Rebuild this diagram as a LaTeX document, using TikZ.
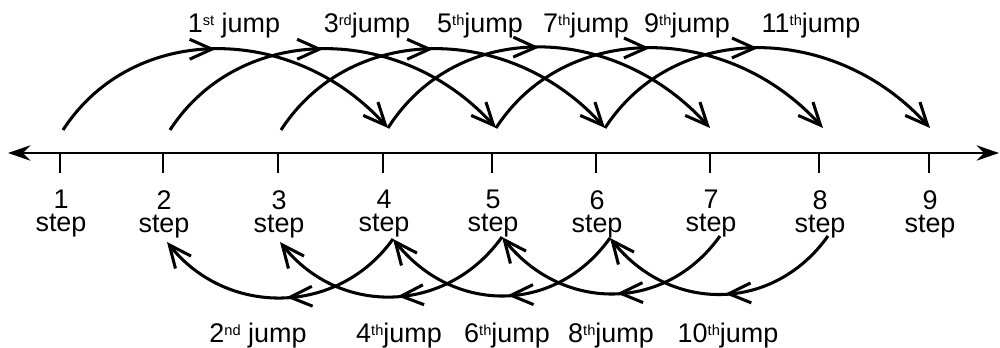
\documentclass[tikz,border=0pt]{standalone}
\usepackage{fontspec}
\setmainfont{Liberation Sans}
\usetikzlibrary{arrows.meta,decorations.markings}
\newcommand{\jsup}[1]{\raisebox{6.5pt}{\fontsize{12.5}{13}\selectfont #1}}
\tikzset{
    jump/.style={line width=2.6pt, -{Straight Barb[length=19pt,width=17pt]}, postaction={decorate},
        decoration={markings, mark=at position 0.48 with {\arrow{Straight Barb[length=19pt,width=17pt]}}}},
    tick/.style={line width=2pt},
    lbl/.style={anchor=base, inner sep=0pt, font=\fontsize{23}{24}\selectfont},
    steplbl/.style={anchor=north, inner sep=0pt, align=center, font=\fontsize{23}{19.8}\selectfont}
}
\begin{document}
\begin{tikzpicture}[x=0.03cm, y=-0.03cm]
        \useasboundingbox (0,0) rectangle (1000,348);

        % draw axis
        \coordinate (l) at (8,153);
        \coordinate (r) at (999,153);
        \draw[line width=2.4pt, {Stealth[length=19pt,width=13pt]}-{Stealth[length=19pt,width=13pt]}] (l) -- (r);

        \foreach \i/\x in {1/60, 2/163, 3/278, 4/383, 5/492, 6/596, 7/710, 8/819, 9/929} {
            \coordinate (t\i) at (\x,153);
            \draw[tick] (t\i) -- ++(0,20);
            \node[steplbl] (n\i) at (\x+1,190) {\i\\step};
        }

        % upper ends
        \coordinate (a1) at (63,130);
        \coordinate (a2) at (170,130);
        \coordinate (a3) at (281,130);
        \coordinate (a4) at (388,128);
        \coordinate (a5) at (496,128);
        \coordinate (a6) at (605,128);
        \coordinate (a7) at (710,128);
        \coordinate (a8) at (823,128);
        \coordinate (a9) at (930,128);

        % lower ends
        \coordinate (b2) at (167,242);
        \coordinate (b3) at (280,242);
        \coordinate (b4) at (393,239);
        \coordinate (b5) at (502,237);
        \coordinate (b6) at (610,238);
        \coordinate (b7) at (720,236);
        \coordinate (b8) at (828,236);

        \draw[jump] (a1) .. controls +(70,-108) and +(-95,-105) .. (a4);
        \draw[jump] (a2) .. controls +(70,-108) and +(-95,-105) .. (a5);
        \draw[jump] (a3) .. controls +(70,-108) and +(-95,-105) .. (a6);
        \draw[jump] (a4) .. controls +(70,-110) and +(-95,-105) .. (a7);
        \draw[jump] (a5) .. controls +(70,-108) and +(-95,-105) .. (a8);
        \draw[jump] (a6) .. controls +(70,-108) and +(-95,-105) .. (a9);

        \draw[jump] (b4) .. controls +(-55,77) and +(60,75) .. (b2);
        \draw[jump] (b5) .. controls +(-55,77) and +(60,75) .. (b3);
        \draw[jump] (b6) .. controls +(-55,77) and +(60,75) .. (b4);
        \draw[jump] (b7) .. controls +(-55,77) and +(60,75) .. (b5);
        \draw[jump] (b8) .. controls +(-55,77) and +(60,75) .. (b6);

        \node[lbl] (j1) at (234,33) {1\jsup{st} jump};
        \node[lbl] (j3) at (367,33) {3\jsup{rd}jump};
        \node[lbl] (j5) at (480,33) {5\jsup{th}jump};
        \node[lbl] (j7) at (586,33) {7\jsup{th}jump};
        \node[lbl] (j9) at (687,33) {9\jsup{th}jump};
        \node[lbl] (j11) at (811,33) {11\jsup{th}jump};

        \node[lbl] (j2) at (258,343) {2\jsup{nd} jump};
        \node[lbl] (j4) at (399,343) {4\jsup{th}jump};
        \node[lbl] (j6) at (507,343) {6\jsup{th}jump};
        \node[lbl] (j8) at (611,343) {8\jsup{th}jump};
        \node[lbl] (j10) at (728,343) {10\jsup{th}jump};

    \end{tikzpicture}
\end{document}
